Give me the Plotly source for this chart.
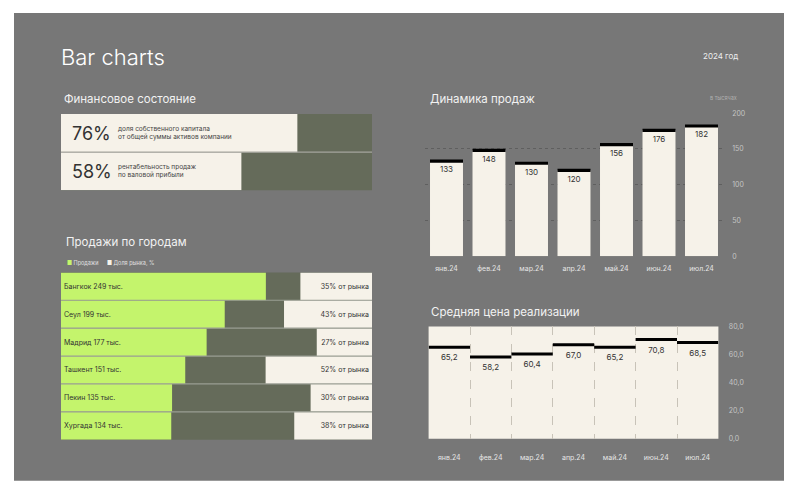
import plotly.graph_objects as go

W, H = 800, 494

# ---------------- data ----------------
fin_values = [76, 58]
fin_desc = ["доля собственного капитала<br>от общей суммы активов компании",
            "рентабельность продаж<br>по валовой прибыли"]

cities = ["Бангкок", "Сеул", "Мадрид", "Ташкент", "Пекин", "Хургада"]
city_sales = [249, 199, 177, 151, 135, 134]
city_share = [35, 43, 27, 52, 30, 38]

months = ["янв.24", "фев.24", "мар.24", "апр.24", "май.24", "июн.24", "июл.24"]
sales = [133, 148, 130, 120, 156, 176, 182]
avg_price = [65.2, 58.2, 60.4, 67.0, 65.2, 70.8, 68.5]

sales_ticks = [0, 50, 100, 150, 200]
price_ticks = [0, 20, 40, 60, 80]

# ---------------- style ----------------
BG = "#777777"
DARK = "#656b5a"
CREAM = "#f6f2e9"
LIME = "#c4f46c"
TXT = "#333333"
FONT = "Inter, Noto Sans, sans-serif"


def fx(px):
    return px / W


def fy(py):
    # screen-pixel y (as measured on the picture) -> paper fraction
    return 1 - ((py - 5.1) / 0.98) / H


fig = go.Figure()

fig.add_trace(go.Bar(x=fin_values, y=[0, 1], orientation="h", width=1,
                     marker=dict(color=CREAM, line_width=0),
                     xaxis="x", yaxis="y", hoverinfo="skip"))

fig.add_trace(go.Bar(x=city_sales, y=cities, orientation="h", width=1,
                     marker=dict(color=LIME, line_width=0),
                     text=[f"{c} {s} тыс." for c, s in zip(cities, city_sales)],
                     textposition="inside", insidetextanchor="start",
                     textangle=0, constraintext="none",
                     textfont=dict(size=7, color=TXT, family=FONT),
                     xaxis="x2", yaxis="y2", hoverinfo="skip"))
fig.add_trace(go.Bar(x=city_share, y=cities, orientation="h", width=1,
                     marker=dict(color=CREAM, line_width=0),
                     text=[f"{s}% от рынка" for s in city_share],
                     textposition="inside", insidetextanchor="start",
                     textangle=0, constraintext="none",
                     textfont=dict(size=7, color=TXT, family=FONT),
                     xaxis="x3", yaxis="y2", hoverinfo="skip"))

fig.add_trace(go.Bar(x=months, y=sales, width=0.776,
                     marker=dict(color=CREAM, line_width=0),
                     xaxis="x4", yaxis="y4", hoverinfo="skip"))
fig.add_trace(go.Scatter(x=months, y=sales, mode="markers",
                         marker=dict(symbol="line-ew", size=33 / 1.4,
                                     line=dict(width=3.2, color="#000000")),
                         xaxis="x4", yaxis="y4", hoverinfo="skip"))
fig.add_trace(go.Scatter(x=months, y=sales, mode="markers+text",
                         marker=dict(size=7, opacity=0),
                         text=[str(v) for v in sales], textposition="bottom center",
                         textfont=dict(size=8, color=TXT, family=FONT),
                         xaxis="x4", yaxis="y4", hoverinfo="skip"))

fig.add_trace(go.Scatter(x=months, y=avg_price, mode="markers",
                         marker=dict(symbol="line-ew", size=41.4 / 1.4,
                                     line=dict(width=3, color="#000000")),
                         xaxis="x5", yaxis="y5", hoverinfo="skip"))
fig.add_trace(go.Scatter(x=months, y=avg_price, mode="markers+text",
                         marker=dict(size=10, opacity=0),
                         text=[f"{v:.1f}".replace(".", ",") for v in avg_price],
                         textposition="bottom center",
                         textfont=dict(size=8, color=TXT, family=FONT),
                         xaxis="x5", yaxis="y5", hoverinfo="skip"))

shapes = [
    dict(type="rect", xref="paper", yref="paper", x0=fx(14), x1=fx(784),
         y0=fy(480), y1=fy(13), fillcolor=BG, line_width=0, layer="below"),
    dict(type="rect", xref="x domain", yref="y domain", x0=0, x1=1, y0=0, y1=1,
         fillcolor=DARK, line_width=0, layer="below"),
    dict(type="rect", xref="x2 domain", yref="y2 domain", x0=0, x1=1, y0=0, y1=1,
         fillcolor=DARK, line_width=0, layer="below"),
    dict(type="rect", xref="x5 domain", yref="y5 domain", x0=0, x1=1, y0=0, y1=1,
         fillcolor=CREAM, line_width=0, layer="below"),
    dict(type="line", xref="x domain", yref="y", x0=0, x1=1, y0=0.5, y1=0.5,
         line=dict(color="#a5a59e", width=1.2), layer="above"),
]
for i in range(len(cities) - 1):
    shapes.append(dict(type="line", xref="x2 domain", yref="y2", x0=0, x1=1,
                       y0=i + 0.5, y1=i + 0.5,
                       line=dict(color="#9a9e93", width=1.2), layer="above"))

ann = []


def text(x, y, s, size, color="#f2f2f2", xanchor="left", weight=None):
    f = dict(size=size, color=color, family=FONT)
    if weight:
        f["weight"] = weight
    ann.append(dict(x=fx(x), y=fy(y), xref="paper", yref="paper", text=s,
                    showarrow=False, xanchor=xanchor, yanchor="middle", font=f))


text(59, 57, "Bar charts", 22, "#ffffff", weight=300)
text(740, 56, "2024 год", 8, "#eeeeee", xanchor="right")
text(62, 99, "Финансовое состояние", 11.5)
text(64, 242, "Продажи по городам", 11.5)
text(428, 99, "Динамика продаж", 11.5)
text(429, 312, "Средняя цена реализации", 11.5)
text(739, 98, "в тысячах", 5.5, "#b0b0b0", xanchor="right")
text(65, 263, f"<span style='color:{LIME}'>■</span> Продажи", 5.5, "#e0e0e0")
text(105, 263, f"<span style='color:{CREAM}'>■</span> Доля рынка, %", 5.5, "#e0e0e0")

for i, (v, d) in enumerate(zip(fin_values, fin_desc)):
    ann.append(dict(x=fx(70), y=i, xref="paper", yref="y", text=f"{v}%",
                    showarrow=False, xanchor="left", yanchor="middle",
                    font=dict(size=18, color=TXT, family=FONT)))
    ann.append(dict(x=fx(116), y=i, xref="paper", yref="y", text=d,
                    showarrow=False, xanchor="left", yanchor="middle", align="left",
                    font=dict(size=6.5, color="#444444", family=FONT)))

hidden = dict(showgrid=False, zeroline=False, showticklabels=False, showline=False,
              ticks="", fixedrange=True)

fig.update_layout(
    width=W, height=H, autosize=False,
    margin=dict(l=0, r=0, t=0, b=0),
    paper_bgcolor="#ffffff", plot_bgcolor="rgba(0,0,0,0)",
    showlegend=False, separators=", ",
    font=dict(family=FONT, color="#dddddd"),
    shapes=shapes, annotations=ann,
    xaxis=dict(domain=[fx(61), fx(372)], range=[0, 100], anchor="y", **hidden),
    yaxis=dict(domain=[fy(190), fy(114)], range=[1.5, -0.5], anchor="x", **hidden),
    xaxis2=dict(domain=[fx(61), fx(372)], range=[0, 378], anchor="y2", **hidden),
    xaxis3=dict(domain=[fx(61), fx(372)], range=[152, 0], anchor="y2",
                overlaying="x2", **hidden),
    yaxis2=dict(domain=[fy(439), fy(272)], autorange="reversed", anchor="x2",
                type="category", **hidden),
    xaxis4=dict(domain=[fx(425.25), fx(722.75)], anchor="y4", range=[-0.5, 6.5],
                showgrid=False, zeroline=False, showline=False, ticks="outside",
                ticklen=5, tickcolor="rgba(0,0,0,0)",
                tickfont=dict(size=7, color="#e6e6e6", family=FONT)),
    yaxis4=dict(domain=[fy(256), fy(113)], range=[0, 200], anchor="x4", side="right",
                tickvals=sales_ticks, showgrid=True, gridcolor="#5f5f5f",
                griddash="dot", gridwidth=1, zeroline=False, showline=False,
                ticks="outside", ticklen=7, tickcolor="rgba(0,0,0,0)",
                tickfont=dict(size=7, color="#c4c4c4", family=FONT)),
    xaxis5=dict(domain=[fx(428.6), fx(718.4)], anchor="y5", range=[-0.5, 6.5],
                tickson="boundaries",
                showgrid=True, gridcolor="#c8c3b8", griddash="dash", gridwidth=1,
                zeroline=False, showline=False, ticks="", ticklabelstandoff=13,
                tickfont=dict(size=7, color="#e6e6e6", family=FONT)),
    yaxis5=dict(domain=[fy(438), fy(326)], range=[0, 80], anchor="x5", side="right",
                tickvals=price_ticks, tickformat=".1f", showgrid=False,
                zeroline=False, showline=False, ticks="outside", ticklen=8,
                tickcolor="rgba(0,0,0,0)",
                tickfont=dict(size=7, color="#c4c4c4", family=FONT)),
)

POST = (
    "var h=document.documentElement,b=document.body;"
    "[h,b].forEach(function(e){e.style.margin='0';e.style.padding='0';"
    "e.style.overflow='hidden';e.style.height='494px';e.style.width='800px';});"
    "var g=document.getElementsByClassName('plotly-graph-div')[0];"
    "if(g){g.style.position='fixed';g.style.left='0px';g.style.top='0px';}"
)

fig.write_html("out.html", config={"displayModeBar": False, "staticPlot": True},
               post_script=POST)
